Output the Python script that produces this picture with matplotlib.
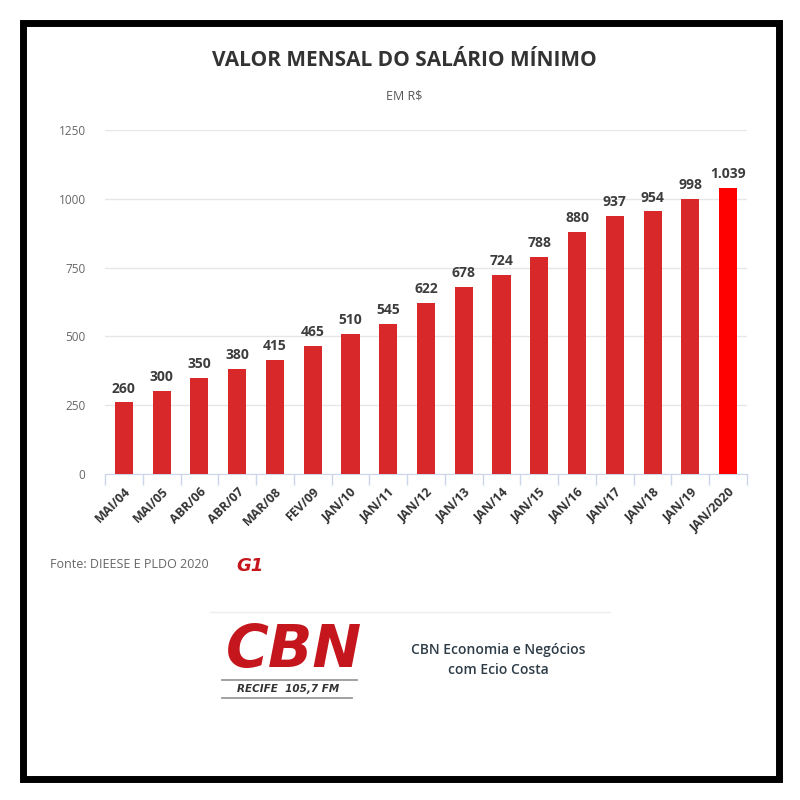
import matplotlib.pyplot as plt
from matplotlib.patches import Rectangle
from matplotlib.lines import Line2D
import numpy as np

periodos = ["MAI/04", "MAI/05", "ABR/06", "ABR/07", "MAR/08", "FEV/09", "JAN/10",
            "JAN/11", "JAN/12", "JAN/13", "JAN/14", "JAN/15", "JAN/16", "JAN/17",
            "JAN/18", "JAN/19", "JAN/2020"]
salario = [260, 300, 350, 380, 415, 465, 510, 545, 622, 678, 724, 788, 880, 937,
           954, 998, 1039]
y_ticks = [0, 250, 500, 750, 1000, 1250]

plt.rcParams['font.family'] = ['Open Sans', 'DejaVu Sans']

W = H = 800
fig = plt.figure(figsize=(8, 8), dpi=100)
fig.patch.set_facecolor("white")


def px(x, y):
    # pixel coords (top-left origin) -> figure fraction
    return x / W, 1 - y / H


# moldura preta
fig.patches.append(Rectangle(px(22.5, 778.5), 756 / W, 756 / H, transform=fig.transFigure,
                             fill=False, edgecolor="black", linewidth=5.0))

ax = fig.add_axes([105 / W, 1 - 474 / H, 642 / W, 344 / H])
x = np.arange(len(periodos))
cores = ["#d9282a"] * (len(salario) - 1) + ["#ff0000"]
ax.bar(x, salario, width=0.48, color=cores, zorder=3)

for xi, v in zip(x, salario):
    txt = f"{v:,}".replace(",", ".")
    ax.annotate(txt, (xi, v), xytext=(0, 5), textcoords="offset points",
                ha="center", va="bottom", fontsize=10, fontweight="bold", color="#3d3d3d")

ax.set_xlim(-0.5, len(periodos) - 0.5)
ax.set_ylim(0, 1250)
ax.set_yticks(y_ticks)
ax.set_yticklabels([str(t) for t in y_ticks], fontsize=8.5, color="#666666")
ax.tick_params(axis="y", length=0, pad=14)
ax.grid(axis="y", color="#e6e6e6", linewidth=1, zorder=0)

ax.set_xticks(x)
ax.set_xticklabels(periodos, rotation=45, ha="right", rotation_mode="anchor",
                   fontsize=9, fontweight="bold", color="#333333")
ax.set_xticks(np.arange(-0.5, len(periodos)), minor=True)
ax.tick_params(axis="x", which="major", length=0, pad=8)
ax.tick_params(axis="x", which="minor", length=8, color="#ccd6eb", width=1)

for s in ["left", "right", "top"]:
    ax.spines[s].set_visible(False)
ax.spines["bottom"].set_color("#ccd6eb")
ax.set_axisbelow(True)

fig.text(*px(404, 60), "VALOR MENSAL DO SALÁRIO MÍNIMO", ha="center", va="center",
         fontsize=15, fontweight="bold", color="#333333")
fig.text(*px(404, 96), "EM R$", ha="center", va="center", fontsize=9, color="#555555")

fig.text(*px(50, 565), "Fonte: DIEESE E PLDO 2020", ha="left", va="center",
         fontsize=9, color="#666666")
fig.text(*px(236, 566), "G1", ha="left", va="center", fontsize=13, fontweight="bold",
         style="italic", color="#c4161c", family="DejaVu Sans")

# rodape CBN
fig.lines.append(Line2D([210 / W, 610 / W], [1 - 612 / H] * 2, transform=fig.transFigure,
                        color="#eeeeee", linewidth=1))
fig.text(*px(294, 651), "CBN", ha="center", va="center", fontsize=42, fontweight="bold",
         style="italic", color="#c4161c", family="DejaVu Sans")
fig.lines.append(Line2D([222 / W, 357 / W], [1 - 680 / H] * 2, transform=fig.transFigure,
                        color="#9a9a9a", linewidth=1.3))
fig.lines.append(Line2D([222 / W, 352 / W], [1 - 698 / H] * 2, transform=fig.transFigure,
                        color="#9a9a9a", linewidth=1.3))
fig.text(*px(288, 689), "RECIFE  105,7 FM", ha="center", va="center", fontsize=7.5,
         fontweight="bold", style="italic", color="#333333", family="DejaVu Sans")
fig.text(*px(498, 650), "CBN Economia e Negócios", ha="center", va="center",
         fontsize=10, color="#2e3d48", fontweight="semibold")
fig.text(*px(498, 670), "com Ecio Costa", ha="center", va="center",
         fontsize=10, color="#2e3d48", fontweight="semibold")

fig.savefig("out.png", dpi=100)
